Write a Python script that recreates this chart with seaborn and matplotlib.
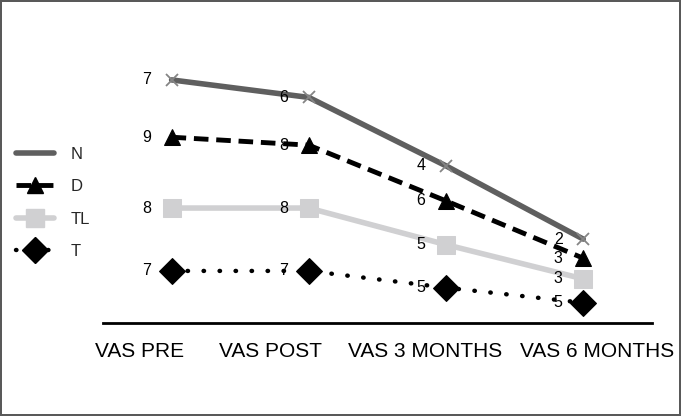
import numpy as np
import pandas as pd
import matplotlib
matplotlib.use("Agg")
import matplotlib.pyplot as plt
from matplotlib.lines import Line2D
import seaborn as sns

sns.set_theme(style="white")
plt.rcParams["font.family"] = ["Liberation Sans", "DejaVu Sans"]

# categories and series (stacked line chart)
categories = ["VAS PRE", "VAS POST", "VAS 3 MONTHS", "VAS 6 MONTHS"]
series_names = ["T", "TL", "D", "N"]  # stacking order, bottom first
t_vals = [7.0, 7.0, 4.9, 3.0]
tl_vals = [7.9, 7.9, 5.4, 3.0]
d_vals = [8.9, 7.9, 5.5, 2.6]
n_vals = [7.2, 6.0, 4.4, 2.4]
# data labels as printed on the chart
t_labels = ["7", "7", "5", "5"]
tl_labels = ["8", "8", "5", "3"]
d_labels = ["9", "8", "6", "3"]
n_labels = ["7", "6", "4", "2"]

values = {"T": t_vals, "TL": tl_vals, "D": d_vals, "N": n_vals}
labels = {"T": t_labels, "TL": tl_labels, "D": d_labels, "N": n_labels}

styles = {
    "N": dict(color="#5f5f5f", linestyle="-", linewidth=4, marker="x",
              markersize=9, markeredgewidth=1.3, markeredgecolor="#858585"),
    "D": dict(color="black", linestyle=(0, (3, 1.6)), linewidth=3.5, marker="^",
              markersize=11, markeredgecolor="black"),
    "TL": dict(color="#d0d0d2", linestyle="-", linewidth=4, marker="s",
               markersize=13, markeredgecolor="#d0d0d2"),
    "T": dict(color="black", linestyle=(0, (0.1, 3.5)), linewidth=3.2,
              dash_capstyle="round", marker="D", markersize=13,
              markeredgecolor="black"),
}

x = np.arange(len(categories))
rows = []
cum = np.zeros(len(categories))
for name in series_names:
    cum = cum + np.array(values[name])
    for i, c in enumerate(categories):
        rows.append({"x": x[i], "cat": c, "series": name, "value": cum[i],
                     "label": labels[name][i]})
df = pd.DataFrame(rows)

fig = plt.figure(figsize=(6.81, 4.16), dpi=100)
ax = fig.add_axes([0.1512, 0.2236, 0.806, 0.680])

for name in series_names:
    sub = df[df["series"] == name]
    sns.lineplot(data=sub, x="x", y="value", ax=ax, legend=False, **styles[name])
    for _, r in sub.iterrows():
        ax.annotate(r["label"], (r["x"], r["value"]), xytext=(-25, 0),
                    textcoords="offset pixels", ha="center", va="center",
                    fontsize=11.5, color="black")

ax.set_xlim(-0.5, 3.5)
ax.set_ylim(0.46, 36)
ax.set_xticks([])
ax.set_yticks([])
ax.set_xlabel("")
ax.set_ylabel("")
for s in ["top", "right", "left"]:
    ax.spines[s].set_visible(False)
ax.spines["bottom"].set_color("black")
ax.spines["bottom"].set_linewidth(2)

# category labels, placed as in the original (not centred on the points)
label_x = [-0.23, 0.72, 1.85, 3.10]
for lx, c in zip(label_x, categories):
    ax.text(lx, -0.102, c, transform=ax.get_xaxis_transform(), ha="center",
            va="center", fontsize=15, color="black")

leg_order = ["N", "D", "TL", "T"]
leg_handles = []
for n in leg_order:
    st = dict(styles[n])
    if n == "N":
        st["marker"] = None
    leg_handles.append(Line2D([], [], **st))
fig.legend(leg_handles, leg_order, loc="center left",
           bbox_to_anchor=(0.0135, 0.512), frameon=False, fontsize=12,
           handlelength=2.3, labelspacing=1.05, handletextpad=1.0,
           borderaxespad=0, numpoints=1)

fig.patch.set_edgecolor("#595959")
fig.patch.set_linewidth(1.5)
fig.savefig("out.png", dpi=100, facecolor="white", edgecolor=fig.get_edgecolor())
